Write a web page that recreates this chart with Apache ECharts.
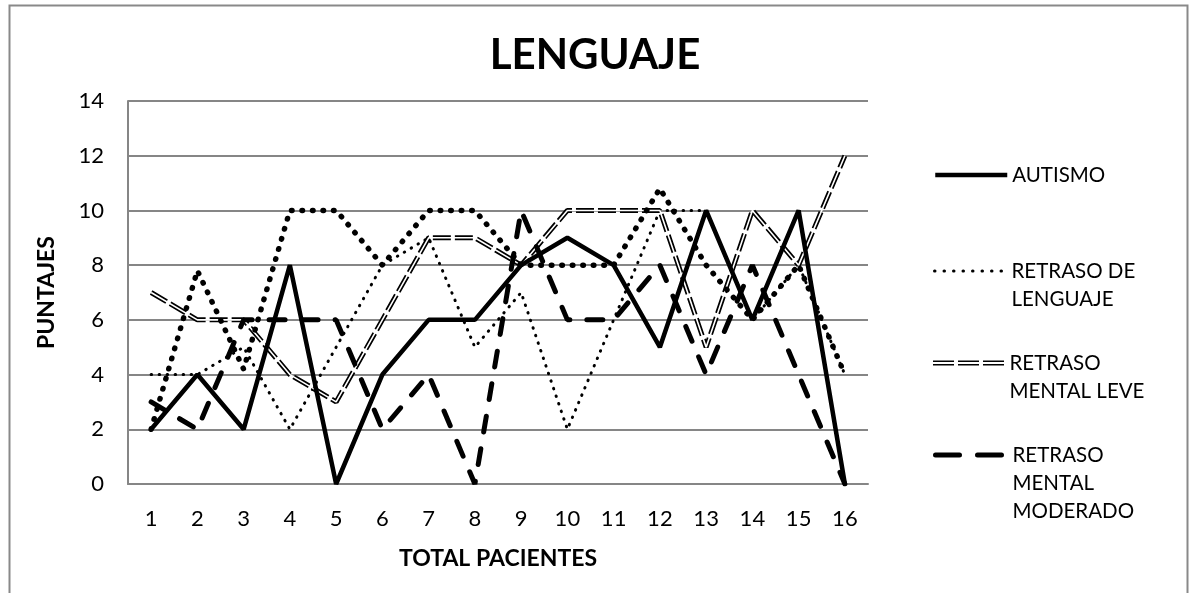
<!DOCTYPE html>
<html>
<head>
<meta charset="utf-8">
<script src="https://cdn.jsdelivr.net/npm/echarts@6/dist/echarts.min.js"></script>
<style>
  html, body {margin: 0; padding: 0; background: #fff;}
  #chart {width: 1190px; height: 593px;}
</style>
</head>
<body>
<div id="chart"></div>
<script>
// valores
const pacientes = ['1','2','3','4','5','6','7','8','9','10','11','12','13','14','15','16'];
const autismo = [2, 4, 2, 8, 0, 4, 6, 6, 8, 9, 8, 5, 10, 6, 10, 0];
const retrasoLenguaje = [4, 4, 5, 2, 5, 8, 9, 5, 7, 2, 6, 10, 10, 6, 8, 4];
const retrasoLeve = [7, 6, 6, 4, 3, 6, 9, 9, 8, 10, 10, 10, 5, 10, 8, 12];
const retrasoModerado = [3, 2, 6, 6, 6, 2, 4, 0, 10, 6, 6, 8, 4, 8, 4, 0];
const serie5 = [2, 7.8, 4.2, 10, 10, 8, 10, 10, 8, 8, 8, 10.8, 8, 6, 8, 4];
const yTicks = {min: 0, max: 14, interval: 2};

const FONT = 'Lato';
const LH = 28;
const doubleIcon = 'path://M0,0H21V1.6H0Z M0,3.4H21V5H0Z M25,0H46V1.6H25Z M25,3.4H46V5H25Z M50,0H71V1.6H50Z M50,3.4H71V5H50Z';

// el icono queda alineado con la primera linea del texto
function legendFor(name, firstLineY, extra) {
    const lines = name.split('\n').length;
    const boxH = (2 * lines - 1) * LH;
    return Object.assign({
        orient: 'vertical', left: 933, top: firstLineY - boxH / 2, padding: 0,
        itemWidth: 72, itemHeight: 14,
        itemStyle: {opacity: 0},
        textStyle: {fontFamily: FONT, fontSize: 20.5, color: '#000', lineHeight: LH},
        formatter: n => '\n'.repeat(lines - 1) + n,
        data: [name]
    }, extra || {});
}

const option = {
    animation: false,
    backgroundColor: '#fff',
    title: {
        text: 'LENGUAJE', left: 'center', top: 29,
        textStyle: {fontFamily: FONT, fontWeight: 'bold', fontSize: 42, color: '#000'}
    },
    graphic: [{
        type: 'rect', left: 7, top: 3, silent: true,
        shape: {width: 1178, height: 600},
        style: {fill: 'none', stroke: '#898989', lineWidth: 2}
    }],
    legend: [
        legendFor('AUTISMO', 175, {
            lineStyle: {width: 4.5}
        }),
        legendFor('RETRASO DE\nLENGUAJE', 271, {
            lineStyle: {width: 3, type: [0.5, 9], cap: 'round'}
        }),
        legendFor('RETRASO\nMENTAL LEVE', 363, {
            itemHeight: 5,
            itemStyle: {color: '#000', borderWidth: 0},
            data: [{name: 'RETRASO\nMENTAL LEVE', icon: doubleIcon}]
        }),
        legendFor('RETRASO\nMENTAL\nMODERADO', 455, {
            lineStyle: {width: 5, type: [24, 18], cap: 'round'}
        })
    ],
    grid: {left: 128, right: 322, top: 101, bottom: 109},
    xAxis: {
        type: 'category', data: pacientes, boundaryGap: true,
        name: 'TOTAL PACIENTES', nameLocation: 'middle', nameGap: 63,
        nameTextStyle: {fontFamily: FONT, fontWeight: 'bold', fontSize: 23, color: '#000'},
        axisLine: {lineStyle: {color: '#868686', width: 2}},
        axisTick: {show: false},
        axisLabel: {fontFamily: FONT, fontSize: 22, color: '#000', margin: 24}
    },
    yAxis: {
        type: 'value', min: yTicks.min, max: yTicks.max, interval: yTicks.interval,
        name: 'PUNTAJES', nameLocation: 'middle', nameGap: 70, nameRotate: 90,
        nameTextStyle: {fontFamily: FONT, fontWeight: 'bold', fontSize: 23, color: '#000'},
        axisLine: {show: true, lineStyle: {color: '#868686', width: 2}},
        axisTick: {show: false},
        axisLabel: {fontFamily: FONT, fontSize: 22, color: '#000', margin: 24},
        splitLine: {lineStyle: {color: '#868686', width: 2}}
    },
    series: [{
        name: 'RETRASO DE\nLENGUAJE', type: 'line', symbol: 'none', data: retrasoLenguaje,
        itemStyle: {color: '#000'},
        lineStyle: {color: '#000', width: 3, type: [0.5, 7.5], cap: 'round'}
    }, {
        name: 'RETRASO\nMENTAL LEVE', type: 'line', symbol: 'none', data: retrasoLeve,
        itemStyle: {color: '#000'},
        lineStyle: {color: '#000', width: 5, type: [18, 4]}
    }, {
        // linea blanca para el efecto de doble linea
        name: 'leve_interior', type: 'line', symbol: 'none', data: retrasoLeve, silent: true,
        lineStyle: {color: '#fff', width: 1.6}
    }, {
        name: 'RETRASO\nMENTAL\nMODERADO', type: 'line', symbol: 'none', data: retrasoModerado,
        itemStyle: {color: '#000'},
        lineStyle: {color: '#000', width: 5, type: [16, 17], cap: 'round'}
    }, {
        name: 'Serie5', type: 'line', symbol: 'none', data: serie5,
        itemStyle: {color: '#000'},
        lineStyle: {color: '#000', width: 5.5, type: [0.5, 10], cap: 'round'}
    }, {
        name: 'AUTISMO', type: 'line', symbol: 'none', data: autismo,
        itemStyle: {color: '#000'},
        lineStyle: {color: '#000', width: 4.5}
    }]
};

const myChart = echarts.init(document.getElementById('chart'));
myChart.setOption(option);
</script>
</body>
</html>
